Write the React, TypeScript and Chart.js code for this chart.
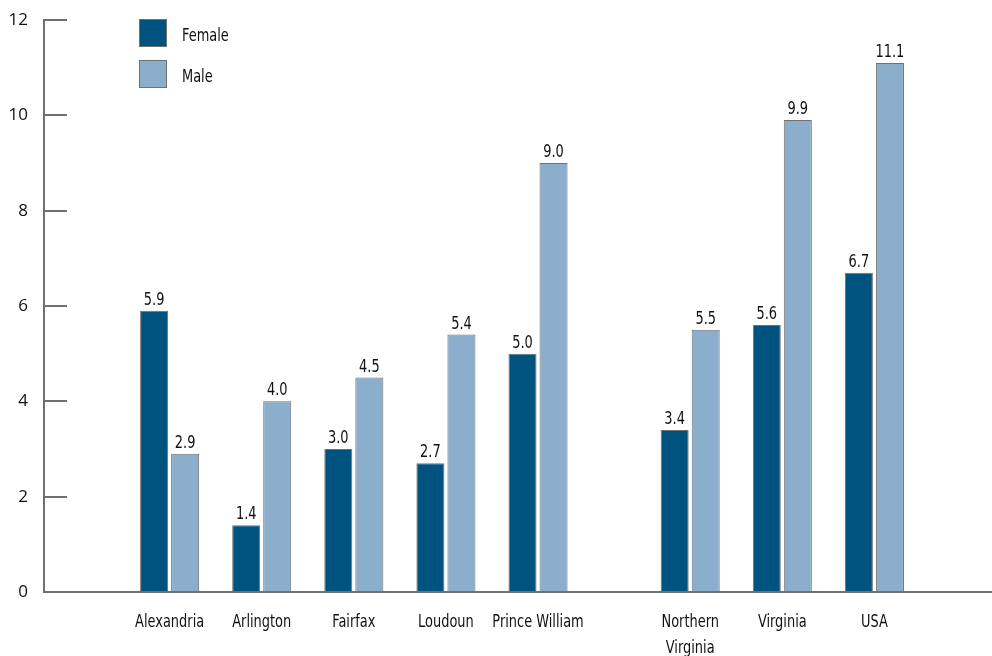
import { useEffect, useRef } from 'react';
import { Chart, registerables, CategoryScale } from 'chart.js';

Chart.register(...registerables);

// ---- data ----
const categories: (string | string[])[] = [
  'Alexandria',
  'Arlington',
  'Fairfax',
  'Loudoun',
  'Prince William',
  ['Northern', 'Virginia'],
  'Virginia',
  'USA',
];
const femaleValues = [5.9, 1.4, 3.0, 2.7, 5.0, 3.4, 5.6, 6.7];
const maleValues = [2.9, 4.0, 4.5, 5.4, 9.0, 5.5, 9.9, 11.1];
const seriesLabels = ['Female', 'Male'];
const yTickValues = [0, 2, 4, 6, 8, 10, 12];

// ---- layout / style ----
const NARROW = '"Liberation Sans Narrow", "DejaVu Sans Condensed", sans-serif';
const SQUEEZE = 0.8; // horizontal compression to mimic a condensed face
const AXIS_COLOR = '#707070';
const TEXT_COLOR = '#111111';
const FEMALE_COLOR = '#00537f';
const MALE_COLOR = '#8aaecb';
const BAR_BORDER = '#707070';

// category axis spacing: lead-in, extra gap after the fifth group, trailing space (in category units)
const LEAD = 1.364;
const GAP_AFTER = 4;
const GAP_EXTRA = 0.652;
const TRAIL = 1.277;

class GappedCategoryScale extends CategoryScale {
  static id = 'gappedCategory';
  getPixelForValue(value: any) {
    if (typeof value !== 'number') value = (this as any).parse(value);
    if (value === null || value === undefined || isNaN(value)) return NaN;
    const n = this.getLabels().length;
    const pos = value + (value > GAP_AFTER ? GAP_EXTRA : 0);
    const total = LEAD + (n - 1) + GAP_EXTRA + TRAIL;
    return this.getPixelForDecimal((pos + LEAD) / total);
  }
}
Chart.register(GappedCategoryScale as any);

function drawNarrow(ctx: CanvasRenderingContext2D, text: string, x: number, y: number, size: number, align: CanvasTextAlign, baseline: CanvasTextBaseline) {
  ctx.save();
  ctx.font = `${size}px ${NARROW}`;
  ctx.fillStyle = TEXT_COLOR;
  ctx.textAlign = align;
  ctx.textBaseline = baseline;
  ctx.translate(x, y);
  ctx.scale(SQUEEZE, 1);
  ctx.fillText(text, 0, 0);
  ctx.restore();
}

const innerTicksPlugin = {
  id: 'innerTicks',
  afterDraw(chart: any) {
    const ys = chart.scales.y;
    const ctx = chart.ctx;
    ctx.save();
    ctx.strokeStyle = AXIS_COLOR;
    ctx.lineWidth = 2;
    ys.ticks.forEach((_t: any, i: number) => {
      const py = Math.round(ys.getPixelForTick(i));
      ctx.beginPath();
      ctx.moveTo(ys.right - 1, py);
      ctx.lineTo(ys.right + 23, py);
      ctx.stroke();
    });
    ctx.restore();
  },
};

const categoryLabelsPlugin = {
  id: 'categoryLabels',
  afterDraw(chart: any) {
    const xs = chart.scales.x;
    const ctx = chart.ctx;
    const labels = chart.data.labels;
    labels.forEach((lab: any, i: number) => {
      const px = xs.getPixelForTick(i);
      const lines = Array.isArray(lab) ? lab : [lab];
      lines.forEach((line: string, li: number) => {
        drawNarrow(ctx, line, px, xs.top + 35 + li * 26, 18, 'center', 'alphabetic');
      });
    });
  },
};

const valueLabelsPlugin = {
  id: 'valueLabels',
  afterDatasetsDraw(chart: any) {
    const ctx = chart.ctx;
    chart.data.datasets.forEach((ds: any, di: number) => {
      const meta = chart.getDatasetMeta(di);
      meta.data.forEach((el: any, i: number) => {
        const v = ds.data[i];
        drawNarrow(ctx, Number(v).toFixed(1), el.x, el.y - 6, 18, 'center', 'alphabetic');
      });
    });
  },
};

const boxLegendPlugin = {
  id: 'boxLegend',
  afterDraw(chart: any) {
    const ctx = chart.ctx;
    const area = chart.chartArea;
    const x0 = area.left + 95;
    const y0 = area.top - 1;
    chart.data.datasets.forEach((ds: any, i: number) => {
      const y = y0 + i * 41;
      ctx.save();
      ctx.fillStyle = ds.backgroundColor;
      ctx.fillRect(x0, y, 28, 28);
      ctx.strokeStyle = BAR_BORDER;
      ctx.lineWidth = 1;
      ctx.strokeRect(x0 + 0.5, y + 0.5, 27, 27);
      ctx.restore();
      drawNarrow(ctx, ds.label, x0 + 43, y + 22, 18, 'left', 'alphabetic');
    });
  },
};

export default function App() {
  const canvasRef = useRef<HTMLCanvasElement | null>(null);

  useEffect(() => {
    if (!canvasRef.current) return;
    const chart = new Chart(canvasRef.current, {
      type: 'bar',
      data: {
        labels: categories as any,
        datasets: [
          {
            label: seriesLabels[0],
            data: femaleValues,
            backgroundColor: FEMALE_COLOR,
            borderColor: BAR_BORDER,
            borderWidth: 1,
            borderSkipped: false,
          },
          {
            label: seriesLabels[1],
            data: maleValues,
            backgroundColor: MALE_COLOR,
            borderColor: BAR_BORDER,
            borderWidth: 1,
            borderSkipped: false,
          },
        ],
      },
      options: {
        animation: false,
        responsive: true,
        maintainAspectRatio: false,
        layout: { padding: { top: 20, left: 0, right: 0, bottom: 0 } },
        datasets: {
          bar: { categoryPercentage: 62 / 92, barPercentage: 28 / 31 },
        },
        plugins: {
          legend: { display: false },
          tooltip: { enabled: false },
        },
        scales: {
          x: {
            type: 'gappedCategory' as any,
            grid: { display: false, drawTicks: false },
            border: { display: true, color: AXIS_COLOR, width: 2 },
            ticks: { display: false, autoSkip: false, maxRotation: 0, minRotation: 0 },
            afterFit: (s: any) => {
              s.height = 64;
              s.paddingLeft = 0;
              s.paddingRight = 0;
            },
          },
          y: {
            min: 0,
            max: 12,
            grid: { display: false, drawTicks: false },
            border: { display: true, color: AXIS_COLOR, width: 2 },
            ticks: {
              padding: 16,
              color: TEXT_COLOR,
              font: { family: '"Open Sans", sans-serif', size: 17 },
            },
            afterBuildTicks: (s: any) => {
              s.ticks = yTickValues.map((v) => ({ value: v }));
            },
            afterFit: (s: any) => {
              s.width = 44;
              s.paddingTop = 0;
              s.paddingBottom = 0;
            },
          },
        },
      } as any,
      plugins: [innerTicksPlugin, categoryLabelsPlugin, valueLabelsPlugin, boxLegendPlugin],
    });
    return () => chart.destroy();
  }, []);

  return (
    <div style={{ position: 'absolute', left: 0, top: 0, width: 992, height: 656, background: '#ffffff' }}>
      <canvas ref={canvasRef} />
    </div>
  );
}
